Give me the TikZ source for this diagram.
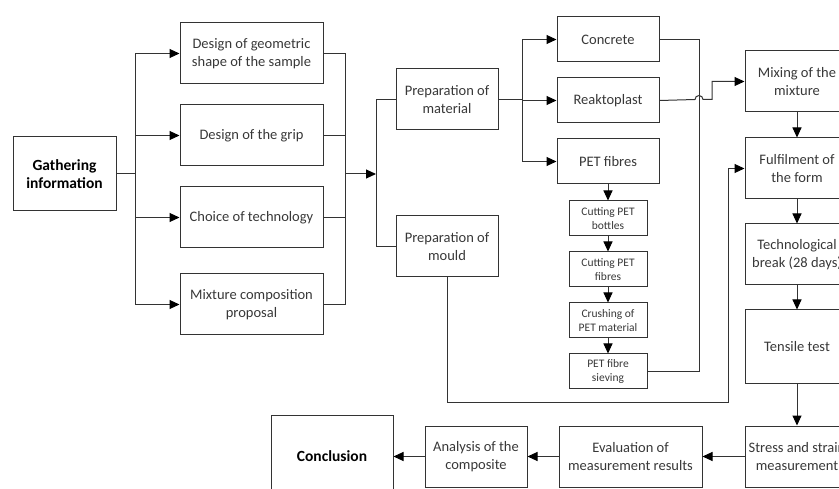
\documentclass[tikz,border=0pt]{standalone}
\usepackage{fontspec}
\setmainfont{Carlito}
\usetikzlibrary{positioning,arrows.meta}

\begin{document}
\begin{tikzpicture}[x=1pt,y=-1pt,>={Triangle[length=10pt,width=9pt,color=black]},
                    blocknode/.style={rectangle, draw=black!80, line width=1pt, align=center, inner sep=2pt, text=black!78,
                                      font=\fontsize{14.5}{17.5}\selectfont},
                    widenode/.style={blocknode, minimum width=143pt, minimum height=61pt},
                    midnode/.style={blocknode, minimum width=102pt, minimum height=61pt},
                    matnode/.style={blocknode, minimum width=102pt, minimum height=45pt},
                    smallnode/.style={blocknode, minimum width=78pt, minimum height=35pt, font=\fontsize{11.5}{14}\selectfont},
                    rightnode/.style={blocknode, minimum width=104pt, minimum height=61pt},
                    boldnode/.style={blocknode, text=black, font=\bfseries\fontsize{15.5}{18.5}\selectfont},
                    line/.style={draw=black!80, line width=1pt}]
                \useasboundingbox (0,0) rectangle (839,489);
                \node[boldnode, minimum width=103pt, minimum height=74pt] (0) at (64.5,174) {Gathering\\information};
                \node[widenode] (1) at (251.5,53.5) {Design of geometric\\shape of the sample};
                \node[widenode] (2) [below=20pt of 1] {Design of the grip};
                \node[widenode] (3) [below=20pt of 2] {Choice of technology};
                \node[widenode] (4) [below=25pt of 3] {Mixture composition\\proposal};
                \node[midnode] (5) at (447,99.5) {Preparation of\\material};
                \node[midnode] (6) at (447,246.5) {Preparation of\\mould};
                \node[matnode] (7) at (608,39.5) {Concrete};
                \node[matnode] (8) [below=15pt of 7] {Reaktoplast};
                \node[matnode] (9) [below=15pt of 8] {PET fibres};
                \node[smallnode] (10) [below=16pt of 9] {Cutting PET\\bottles};
                \node[smallnode] (11) [below=15pt of 10] {Cutting PET\\fibres};
                \node[smallnode] (12) [below=15pt of 11] {Crushing of\\PET material};
                \node[smallnode] (13) [below=15pt of 12] {PET fibre\\sieving};
                \node[rightnode] (14) at (797,81.5) {Mixing of the\\mixture};
                \node[rightnode] (15) [below=25pt of 14] {Fulfilment of\\the form};
                \node[rightnode] (16) [below=24pt of 15] {Technological\\break (28 days)};
                \node[rightnode, minimum height=74pt] (17) [below=24pt of 16] {Tensile test};
                \node[rightnode] (18) [below=41pt of 17] {Stress and strain\\measurement};
                \node[widenode] (19) [left=42pt of 18] {Evaluation of\\measurement results};
                \node[midnode] (20) [left=31pt of 19] {Analysis of the\\composite};
                \node[boldnode, minimum width=122pt, minimum height=82pt] (21) [left=31pt of 20] {Conclusion};
                \coordinate (c1) at (135,174);
                \coordinate (c2) at (345,174);
                \coordinate (c3) at (376,174);
                \coordinate (c4) at (522,99.5);
                \coordinate (c5) at (699,39.5);
                \coordinate (c6) at (695,99.5);
                \coordinate (c7) at (728,402);
                \draw[line] (0.east) -- (c1);
                \draw[line,->] (c1) |- (1.west);
                \draw[line,->] (c1) |- (2.west);
                \draw[line,->] (c1) |- (3.west);
                \draw[line,->] (c1) |- (4.west);
                \draw[line] (1.east) -| (c2);
                \draw[line] (2.east) -| (c2);
                \draw[line] (3.east) -| (c2);
                \draw[line] (4.east) -| (c2);
                \draw[line,->] (c2) -- (c3);
                \draw[line] (c3) |- (5.west);
                \draw[line] (c3) |- (6.west);
                \draw[line] (5.east) -- (c4);
                \draw[line,->] (c4) |- (7.west);
                \draw[line,->] (c4) |- (8.west);
                \draw[line,->] (c4) |- (9.west);
                \draw[line,->] (9.south) -- (10.north);
                \draw[line,->] (10.south) -- (11.north);
                \draw[line,->] (11.south) -- (12.north);
                \draw[line,->] (12.south) -- (13.north);
                \draw[line] (7.east) -- (c5) |- (13.east);
                \draw[line,->] (8.east) -- (c6) arc (180:0:4pt) -- ++(9pt,0) |- (14.west);
                \draw[line,->] (6.south) |- (c7) |- (15.west);
                \draw[line,->] (14.south) -- (15.north);
                \draw[line,->] (15.south) -- (16.north);
                \draw[line,->] (16.south) -- (17.north);
                \draw[line,->] (17.south) -- (18.north);
                \draw[line,->] (18.west) -- (19.east);
                \draw[line,->] (19.west) -- (20.east);
                \draw[line,->] (20.west) -- (21.east);
            \end{tikzpicture}
\end{document}
